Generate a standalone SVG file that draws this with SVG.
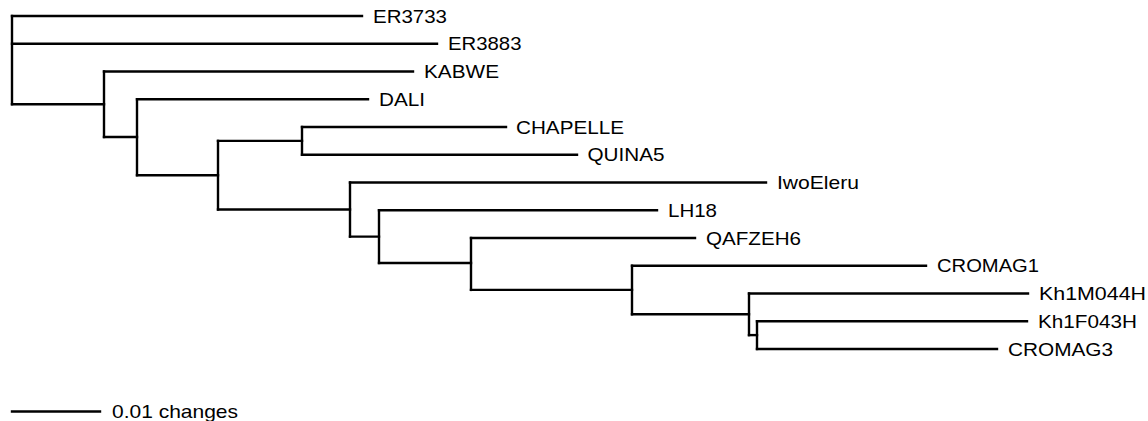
<svg xmlns="http://www.w3.org/2000/svg" width="1148" height="421" viewBox="0 0 1148 421">
  <style>
    .br { fill: none; stroke: #000; stroke-width: 2.4; stroke-linecap: square; stroke-linejoin: miter; }
    .lbl { font-family: "Liberation Sans", Arial, Helvetica, sans-serif; font-size: 18.6px; fill: #000; }
  </style>
  <rect width="1148" height="421" fill="#fff"/>

  <!-- branches: one horizontal per edge, one vertical per internal node -->
  <g id="connectors" class="br">
    <!-- root (x=12) -->
    <path d="M12 16 V104.2"/>
    <path d="M12 16 H362"/>
    <path d="M12 43.75 H437"/>
    <path d="M12 104.2 H104"/>
    <!-- node A (x=104) -->
    <path d="M104 71.5 V137"/>
    <path d="M104 71.5 H413"/>
    <path d="M104 137 H137"/>
    <!-- node B (x=137) -->
    <path d="M137 99.25 V175.2"/>
    <path d="M137 99.25 H368"/>
    <path d="M137 175.2 H218"/>
    <!-- node C (x=218) -->
    <path d="M218 140.9 V209.5"/>
    <path d="M218 140.9 H302"/>
    <path d="M218 209.5 H350"/>
    <!-- node D (x=302) -->
    <path d="M302 127 V154.75"/>
    <path d="M302 127 H506"/>
    <path d="M302 154.75 H577"/>
    <!-- node E (x=350) -->
    <path d="M350 182.5 V236.6"/>
    <path d="M350 182.5 H766"/>
    <path d="M350 236.6 H379"/>
    <!-- node F (x=379) -->
    <path d="M379 210.25 V263"/>
    <path d="M379 210.25 H657"/>
    <path d="M379 263 H471"/>
    <!-- node G (x=471) -->
    <path d="M471 238 V289.9"/>
    <path d="M471 238 H695"/>
    <path d="M471 289.9 H632"/>
    <!-- node H (x=632) -->
    <path d="M632 265.75 V314.3"/>
    <path d="M632 265.75 H926"/>
    <path d="M632 314.3 H749"/>
    <!-- node I (x=749) -->
    <path d="M749 293.5 V335.1"/>
    <path d="M749 293.5 H1028"/>
    <path d="M749 335.1 H757"/>
    <!-- node J (x=757) -->
    <path d="M757 321.25 V349"/>
    <path d="M757 321.25 H1027"/>
    <path d="M757 349 H997"/>
  </g>

  <!-- tip labels -->
  <g id="ER3733"><text class="lbl" x="373" y="22.6" textLength="74" lengthAdjust="spacingAndGlyphs">ER3733</text></g>
  <g id="ER3883"><text class="lbl" x="448" y="50.4" textLength="73.5" lengthAdjust="spacingAndGlyphs">ER3883</text></g>
  <g id="KABWE"><text class="lbl" x="424" y="78.1" textLength="75" lengthAdjust="spacingAndGlyphs">KABWE</text></g>
  <g id="DALI"><text class="lbl" x="379" y="105.9" textLength="46" lengthAdjust="spacingAndGlyphs">DALI</text></g>
  <g id="CHAPELLE"><text class="lbl" x="516" y="133.6" textLength="108" lengthAdjust="spacingAndGlyphs">CHAPELLE</text></g>
  <g id="QUINA5"><text class="lbl" x="587.5" y="161.4" textLength="77" lengthAdjust="spacingAndGlyphs">QUINA5</text></g>
  <g id="IwoEleru"><text class="lbl" x="777" y="189.1" textLength="82" lengthAdjust="spacingAndGlyphs">IwoEleru</text></g>
  <g id="LH18"><text class="lbl" x="668" y="216.9" textLength="49" lengthAdjust="spacingAndGlyphs">LH18</text></g>
  <g id="QAFZEH6"><text class="lbl" x="706" y="244.6" textLength="95" lengthAdjust="spacingAndGlyphs">QAFZEH6</text></g>
  <g id="CROMAG1"><text class="lbl" x="937" y="272.4" textLength="102" lengthAdjust="spacingAndGlyphs">CROMAG1</text></g>
  <g id="Kh1M044H"><text class="lbl" x="1039" y="300.1" textLength="107" lengthAdjust="spacingAndGlyphs">Kh1M044H</text></g>
  <g id="Kh1F043H"><text class="lbl" x="1038" y="327.9" textLength="99" lengthAdjust="spacingAndGlyphs">Kh1F043H</text></g>
  <g id="CROMAG3"><text class="lbl" x="1008" y="355.6" textLength="105" lengthAdjust="spacingAndGlyphs">CROMAG3</text></g>

  <!-- scale bar -->
  <g id="scale">
    <path class="br" d="M12 411.5 H100"/>
    <text class="lbl" x="112" y="418" textLength="126" lengthAdjust="spacingAndGlyphs">0.01 changes</text>
  </g>
</svg>
